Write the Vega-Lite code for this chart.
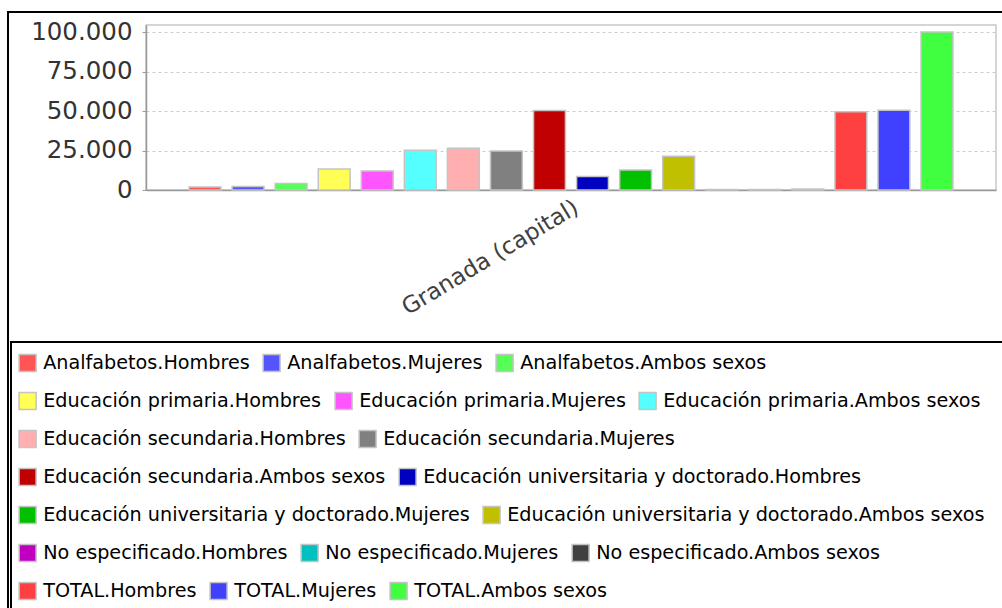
{
  "$schema": "https://vega.github.io/schema/vega-lite/v6.json",
  "autosize": {"type": "none"},
  "width": 850,
  "height": 165,
  "padding": {"left": 146, "top": 25, "right": 6, "bottom": 418},
  "background": "#ffffff",
  "data": {
    "values": [
      {"municipio": "Granada (capital)", "serie": "Analfabetos.Hombres", "valor": 1900},
      {"municipio": "Granada (capital)", "serie": "Analfabetos.Mujeres", "valor": 2200},
      {"municipio": "Granada (capital)", "serie": "Analfabetos.Ambos sexos", "valor": 4100},
      {"municipio": "Granada (capital)", "serie": "Educación primaria.Hombres", "valor": 13300},
      {"municipio": "Granada (capital)", "serie": "Educación primaria.Mujeres", "valor": 12100},
      {"municipio": "Granada (capital)", "serie": "Educación primaria.Ambos sexos", "valor": 25100},
      {"municipio": "Granada (capital)", "serie": "Educación secundaria.Hombres", "valor": 26400},
      {"municipio": "Granada (capital)", "serie": "Educación secundaria.Mujeres", "valor": 24700},
      {"municipio": "Granada (capital)", "serie": "Educación secundaria.Ambos sexos", "valor": 50400},
      {"municipio": "Granada (capital)", "serie": "Educación universitaria y doctorado.Hombres", "valor": 8600},
      {"municipio": "Granada (capital)", "serie": "Educación universitaria y doctorado.Mujeres", "valor": 12600},
      {"municipio": "Granada (capital)", "serie": "Educación universitaria y doctorado.Ambos sexos", "valor": 21300},
      {"municipio": "Granada (capital)", "serie": "No especificado.Hombres", "valor": 350},
      {"municipio": "Granada (capital)", "serie": "No especificado.Mujeres", "valor": 300},
      {"municipio": "Granada (capital)", "serie": "No especificado.Ambos sexos", "valor": 650},
      {"municipio": "Granada (capital)", "serie": "TOTAL.Hombres", "valor": 49500},
      {"municipio": "Granada (capital)", "serie": "TOTAL.Mujeres", "valor": 50500},
      {"municipio": "Granada (capital)", "serie": "TOTAL.Ambos sexos", "valor": 100000}
    ]
  },
  "encoding": {
    "x": {
      "field": "municipio",
      "type": "nominal",
      "title": null,
      "scale": {"paddingInner": 0, "paddingOuter": 0},
      "axis": {
        "labelAngle": -31,
        "labelFont": "DejaVu Sans",
        "labelFontSize": 23,
        "labelColor": "#404040",
        "labelPadding": 6,
        "labelLimit": 500,
        "ticks": false,
        "domainColor": "#9a9a9a",
        "domainWidth": 1.5,
        "grid": false
      }
    },
    "xOffset": {
      "field": "serie",
      "type": "nominal",
      "sort": null,
      "scale": {
        "domain": [
          "Analfabetos.Hombres", "Analfabetos.Mujeres", "Analfabetos.Ambos sexos",
          "Educación primaria.Hombres", "Educación primaria.Mujeres", "Educación primaria.Ambos sexos",
          "Educación secundaria.Hombres", "Educación secundaria.Mujeres", "Educación secundaria.Ambos sexos",
          "Educación universitaria y doctorado.Hombres", "Educación universitaria y doctorado.Mujeres", "Educación universitaria y doctorado.Ambos sexos",
          "No especificado.Hombres", "No especificado.Mujeres", "No especificado.Ambos sexos",
          "TOTAL.Hombres", "TOTAL.Mujeres", "TOTAL.Ambos sexos"
        ],
        "paddingInner": 0.26,
        "paddingOuter": 1.0
      }
    },
    "y": {
      "field": "valor",
      "type": "quantitative",
      "title": null,
      "scale": {"domain": [0, 104500], "nice": false, "zero": true},
      "axis": {
        "values": [0, 25000, 50000, 75000, 100000],
        "labelExpr": "replace(format(datum.value, ','), ',', '.')",
        "labelFont": "DejaVu Sans",
        "labelFontSize": 24.5,
        "labelColor": "#333333",
        "labelPadding": 10,
        "tickSize": 4,
        "tickColor": "#9a9a9a",
        "domainColor": "#9a9a9a",
        "domainWidth": 1.5,
        "gridColor": "#cccccc",
        "gridDash": [3, 3],
        "gridWidth": 1
      }
    }
  },
  "layer": [
    {
      "transform": [{"filter": {"field": "serie", "oneOf": ["Analfabetos.Hombres", "Analfabetos.Mujeres", "Analfabetos.Ambos sexos"]}}],
      "mark": {"type": "bar", "stroke": "#c4c4c4", "strokeWidth": 1.5},
      "encoding": {
        "color": {
          "field": "serie", "type": "nominal",
          "scale": {"domain": ["Analfabetos.Hombres", "Analfabetos.Mujeres", "Analfabetos.Ambos sexos"], "range": ["#ff5555", "#5555ff", "#55ff55"]},
          "legend": {"title": null, "legendX": -128, "legendY": 328}
        }
      }
    },
    {
      "transform": [{"filter": {"field": "serie", "oneOf": ["Educación primaria.Hombres", "Educación primaria.Mujeres", "Educación primaria.Ambos sexos"]}}],
      "mark": {"type": "bar", "stroke": "#c4c4c4", "strokeWidth": 1.5},
      "encoding": {
        "color": {
          "field": "serie", "type": "nominal",
          "scale": {"domain": ["Educación primaria.Hombres", "Educación primaria.Mujeres", "Educación primaria.Ambos sexos"], "range": ["#ffff55", "#ff55ff", "#55ffff"]},
          "legend": {"title": null, "legendX": -128, "legendY": 366}
        }
      }
    },
    {
      "transform": [{"filter": {"field": "serie", "oneOf": ["Educación secundaria.Hombres", "Educación secundaria.Mujeres"]}}],
      "mark": {"type": "bar", "stroke": "#c4c4c4", "strokeWidth": 1.5},
      "encoding": {
        "color": {
          "field": "serie", "type": "nominal",
          "scale": {"domain": ["Educación secundaria.Hombres", "Educación secundaria.Mujeres"], "range": ["#ffafaf", "#808080"]},
          "legend": {"title": null, "legendX": -128, "legendY": 404}
        }
      }
    },
    {
      "transform": [{"filter": {"field": "serie", "oneOf": ["Educación secundaria.Ambos sexos", "Educación universitaria y doctorado.Hombres"]}}],
      "mark": {"type": "bar", "stroke": "#c4c4c4", "strokeWidth": 1.5},
      "encoding": {
        "color": {
          "field": "serie", "type": "nominal",
          "scale": {"domain": ["Educación secundaria.Ambos sexos", "Educación universitaria y doctorado.Hombres"], "range": ["#c00000", "#0000c0"]},
          "legend": {"title": null, "legendX": -128, "legendY": 442}
        }
      }
    },
    {
      "transform": [{"filter": {"field": "serie", "oneOf": ["Educación universitaria y doctorado.Mujeres", "Educación universitaria y doctorado.Ambos sexos"]}}],
      "mark": {"type": "bar", "stroke": "#c4c4c4", "strokeWidth": 1.5},
      "encoding": {
        "color": {
          "field": "serie", "type": "nominal",
          "scale": {"domain": ["Educación universitaria y doctorado.Mujeres", "Educación universitaria y doctorado.Ambos sexos"], "range": ["#00c000", "#c0c000"]},
          "legend": {"title": null, "legendX": -128, "legendY": 480}
        }
      }
    },
    {
      "transform": [{"filter": {"field": "serie", "oneOf": ["No especificado.Hombres", "No especificado.Mujeres", "No especificado.Ambos sexos"]}}],
      "mark": {"type": "bar", "stroke": "#c4c4c4", "strokeWidth": 1.5},
      "encoding": {
        "color": {
          "field": "serie", "type": "nominal",
          "scale": {"domain": ["No especificado.Hombres", "No especificado.Mujeres", "No especificado.Ambos sexos"], "range": ["#c000c0", "#00c0c0", "#404040"]},
          "legend": {"title": null, "legendX": -128, "legendY": 518}
        }
      }
    },
    {
      "transform": [{"filter": {"field": "serie", "oneOf": ["TOTAL.Hombres", "TOTAL.Mujeres", "TOTAL.Ambos sexos"]}}],
      "mark": {"type": "bar", "stroke": "#c4c4c4", "strokeWidth": 1.5},
      "encoding": {
        "color": {
          "field": "serie", "type": "nominal",
          "scale": {"domain": ["TOTAL.Hombres", "TOTAL.Mujeres", "TOTAL.Ambos sexos"], "range": ["#ff4040", "#4040ff", "#40ff40"]},
          "legend": {"title": null, "legendX": -128, "legendY": 556}
        }
      }
    },
    {
      "mark": {"type": "point", "opacity": 0, "size": 1},
      "encoding": {
        "shape": {
          "datum": "marco",
          "scale": {"domain": ["marco"], "range": ["M0,0H1010V620H0ZM3,330H1010V620H3Z"]},
          "legend": {
            "title": null,
            "orient": "none",
            "legendX": -140,
            "legendY": -15,
            "padding": 0,
            "symbolSize": 4,
            "symbolOpacity": 1,
            "symbolFillColor": "transparent",
            "symbolStrokeColor": "#000000",
            "symbolStrokeWidth": 2,
            "labelExpr": "''",
            "labelFontSize": 1,
            "encode": {
              "symbols": {
                "fill": {"value": "transparent"},
                "stroke": {"value": "#000000"},
                "strokeWidth": {"value": 2},
                "opacity": {"value": 1}
              }
            }
          }
        }
      }
    }
  ],
  "resolve": {
    "scale": {"color": "independent"},
    "legend": {"color": "independent"}
  },
  "config": {
    "view": {"stroke": "#c8c8c8", "strokeWidth": 1.5},
    "legend": {
      "orient": "none",
      "direction": "horizontal",
      "padding": 0,
      "columnPadding": 10,
      "symbolType": "square",
      "symbolSize": 289,
      "symbolStrokeWidth": 1.5,
      "symbolStrokeColor": "#c4c4c4",
      "symbolOpacity": 1,
      "labelFont": "DejaVu Sans",
      "labelFontSize": 19.2,
      "labelColor": "#000000",
      "labelOffset": 6,
      "labelLimit": 1000
    }
  }
}
